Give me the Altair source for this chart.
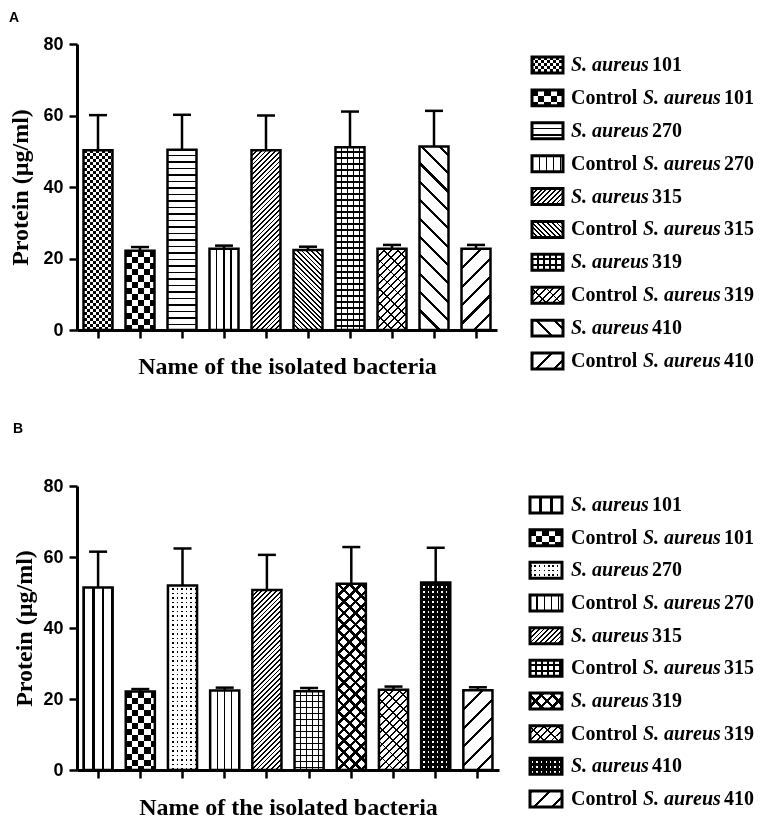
import math
import altair as alt
import pandas as pd

# ---------------- data ----------------
strains = ["101", "270", "315", "319", "410"]
cats = []
for s in strains:
    cats += [f"S. aureus {s}", f"Control S. aureus {s}"]
nums = [s for s in strains for _ in range(2)]
ctrl = [False, True] * 5

# Panel A (mean and SD, µg/ml)
mean_a = [50.3, 22.2, 50.4, 22.7, 50.3, 22.4, 51.1, 22.7, 51.3, 22.7]
err_a = [9.8, 1.0, 9.8, 0.9, 9.7, 0.9, 10.0, 1.1, 10.0, 1.1]
# Panel B
mean_b = [51.4, 22.1, 52.0, 22.4, 50.7, 22.2, 52.5, 22.6, 52.8, 22.5]
err_b = [10.1, 0.7, 10.4, 0.8, 9.9, 0.9, 10.3, 0.9, 9.8, 0.8]

pat_a = ["fine_checker", "checker", "hlines", "vlines", "diag_fine",
         "back_fine", "grid", "brick", "back_wide", "diag_wide"]
pat_b = ["vthick", "checker", "dots", "vlines", "diag_fine",
         "grid", "diamond", "brick", "dark_dash", "diag_wide"]

BLACK = "#000000"
WHITE = "#ffffff"
CLEAR = "rgba(0,0,0,0)"


# ---------------- hatch patterns via hard-stop gradients ----------------
def stops_for(L, period, thick, line, bg, phase=0.0):
    stops = []
    x = (phase % period) - period
    while x < L:
        for s, e, c in ((x, x + thick, line), (x + thick, x + period, bg)):
            s2 = max(0.0, s)
            e2 = min(L, e)
            if e2 > s2:
                stops.append({"offset": round(s2 / L, 5), "color": c})
                stops.append({"offset": round(e2 / L, 5), "color": c})
        x += period
    return stops


def lin(kind, w, h, period, thick, line=BLACK, bg=WHITE, phase=0.0):
    if kind == "v":
        L = w
        g = dict(x1=0, y1=0, x2=1, y2=0)
    elif kind == "h":
        L = h
        g = dict(x1=0, y1=0, x2=0, y2=1)
    else:
        k = (w + h) / (w * w + h * h)
        L = (w + h) / math.sqrt(2)
        if kind == "d":
            g = dict(x1=0, y1=0, x2=k * w, y2=k * h)
        else:
            g = dict(x1=0, y1=1, x2=k * w, y2=1 - k * h)
    out = {"gradient": "linear"}
    out.update({kk: round(v, 5) for kk, v in g.items()})
    out["stops"] = stops_for(L, period, thick, line, bg, phase)
    return out


def pattern(name, w, h):
    P = []
    if name in ("fine_checker", "checker"):
        s = 3.0 if name == "fine_checker" else 6.2
        P.append({"fill": lin("v", w, h, 2 * s, s, WHITE, BLACK)})
        P.append({"fill": lin("h", w, h, 2 * s, s, WHITE, BLACK), "blend": "difference"})
    elif name == "hlines":
        P.append({"fill": lin("h", w, h, 6.5, 1.5, phase=5.0)})
    elif name == "vlines":
        P.append({"fill": lin("v", w, h, 7.2, 1.3, phase=6.5)})
    elif name == "vthick":
        per = w / 3.0
        P.append({"fill": lin("v", w, h, per, 2.7, phase=per - 1.35)})
    elif name == "diag_fine":
        P.append({"fill": lin("d", w, h, 3.4, 1.3)})
    elif name == "back_fine":
        P.append({"fill": lin("b", w, h, 3.4, 1.3)})
    elif name == "grid":
        P.append({"fill": lin("v", w, h, 6.0, 1.2, phase=5.4)})
        P.append({"fill": lin("h", w, h, 6.0, 1.2, BLACK, CLEAR, phase=4.0)})
    elif name == "brick":
        P.append({"fill": lin("d", w, h, 5.0, 1.4)})
        P.append({"fill": lin("b", w, h, 10.0, 1.2, BLACK, CLEAR)})
    elif name == "back_wide":
        P.append({"fill": lin("b", w, h, 13.0, 2.2)})
    elif name == "diag_wide":
        P.append({"fill": lin("d", w, h, 13.0, 2.2)})
    elif name == "diamond":
        P.append({"fill": lin("d", w, h, 8.2, 2.5)})
        P.append({"fill": lin("b", w, h, 8.2, 2.5, BLACK, CLEAR)})
    elif name == "dots":
        P.append({"fill": lin("v", w, h, 4.5, 1.5)})
        P.append({"fill": lin("h", w, h, 4.5, 2.7, WHITE, CLEAR)})
    elif name == "dark_dash":
        P.append({"fill": BLACK})
        P.append({"fill": lin("v", w, h, 4.5, 1.4, WHITE, CLEAR, phase=2.0)})
        P.append({"fill": lin("h", w, h, 5.0, 3.0, BLACK, CLEAR)})
    return P


# ---------------- panels ----------------
def bar_panel(mean, err, pats, W, H, pi, y_tp, x_tp):
    df = pd.DataFrame({"cat": cats, "mean": mean, "err": err})
    bw = (W / 10.0) * (1 - pi)
    X = alt.X("cat:N", sort=cats,
              scale=alt.Scale(domain=cats, paddingInner=pi, paddingOuter=pi / 2),
              axis=alt.Axis(labels=False, ticks=True, tickSize=8, tickWidth=2.5,
                            tickColor="black", domainColor="black", domainWidth=3,
                            title="Name of the isolated bacteria",
                            titleFont="Liberation Serif", titleFontSize=24,
                            titleFontWeight="bold", titleColor="black",
                            titlePadding=x_tp))

    def mkY(field):
        return alt.Y(field, scale=alt.Scale(domain=[0, 80], nice=False),
                     axis=alt.Axis(values=[0, 20, 40, 60, 80], grid=False,
                                   tickSize=8, tickWidth=2.5, tickColor="black",
                                   domainColor="black", domainWidth=3,
                                   labelFont="Liberation Sans", labelFontSize=18,
                                   labelFontWeight="bold", labelColor="black",
                                   labelPadding=6,
                                   title="Protein (µg/ml)",
                                   titleFont="Liberation Serif", titleFontSize=24,
                                   titleFontWeight="bold", titleColor="black",
                                   titlePadding=y_tp))

    base = alt.Chart(df)
    layers = []
    for c, m, p in zip(cats, mean, pats):
        h = m * H / 80.0
        for spec in pattern(p, bw, h):
            kw = dict(fill=spec["fill"], strokeWidth=0, opacity=1)
            if "blend" in spec:
                kw["blend"] = spec["blend"]
            layers.append(base.transform_filter(alt.datum.cat == c)
                          .mark_bar(**kw).encode(x=X, y=mkY("mean:Q")))
    layers.append(base.mark_bar(fillOpacity=0, stroke="black", strokeWidth=2.5, opacity=1)
                  .encode(x=X, y=mkY("mean:Q")))
    eb = base.transform_calculate(upper="datum.mean + datum.err")
    layers.append(eb.mark_rule(color="black", strokeWidth=2.5, opacity=1)
                  .encode(x=X, y=mkY("mean:Q"), y2="upper:Q"))
    layers.append(eb.mark_tick(color="black", thickness=2.5, size=18, opacity=1)
                  .encode(x=X, y=mkY("upper:Q")))
    return alt.layer(*layers).properties(width=W, height=H)


def legend_panel(pats, H, pi, po, sw_w, sw_h=16, text_x=39):
    df = pd.DataFrame({"cat": cats, "ctrl": ctrl, "num": nums})
    Y = alt.Y("cat:N", sort=cats,
              scale=alt.Scale(domain=cats, paddingInner=pi, paddingOuter=po), axis=None)
    base = alt.Chart(df)
    layers = []
    for c, p in zip(cats, pats):
        for spec in pattern(p, sw_w, sw_h):
            kw = dict(fill=spec["fill"], strokeWidth=0, opacity=1)
            if "blend" in spec:
                kw["blend"] = spec["blend"]
            layers.append(base.transform_filter(alt.datum.cat == c).mark_rect(**kw)
                          .encode(y=Y, x=alt.value(0), x2=alt.value(sw_w)))
    layers.append(base.mark_rect(fillOpacity=0, stroke="black", strokeWidth=3, opacity=1)
                  .encode(y=Y, x=alt.value(0), x2=alt.value(sw_w)))
    cb = base.transform_filter("datum.ctrl")
    pb = base.transform_filter("!datum.ctrl")
    tk = dict(font="Liberation Serif", fontSize=20, fontWeight="bold",
              align="left", baseline="middle", color="black")
    layers.append(cb.mark_text(text="Control", **tk).encode(y=Y, x=alt.value(text_x)))
    layers.append(pb.mark_text(text="S. aureus", fontStyle="italic", **tk)
                  .encode(y=Y, x=alt.value(text_x)))
    layers.append(cb.mark_text(text="S. aureus", fontStyle="italic", **tk)
                  .encode(y=Y, x=alt.value(text_x + 72)))
    layers.append(pb.mark_text(**tk).encode(y=Y, x=alt.value(text_x + 81), text="num:N"))
    layers.append(cb.mark_text(**tk).encode(y=Y, x=alt.value(text_x + 153), text="num:N"))
    return alt.layer(*layers).properties(width=195, height=H)


barsA = bar_panel(mean_a, err_a, pat_a, W=420, H=286, pi=0.31, y_tp=10, x_tp=15)
legA = legend_panel(pat_a, H=338, pi=0.514, po=0.395, sw_w=31)
barsB = bar_panel(mean_b, err_b, pat_b, W=422, H=284, pi=0.31, y_tp=6, x_tp=16)
legB = legend_panel(pat_b, H=332, pi=0.511, po=0.337, sw_w=32, text_x=41)

rowA = alt.hconcat(barsA, legA, spacing=33).properties(
    title=alt.TitleParams("A", anchor="start", font="Liberation Sans", fontSize=14,
                          fontWeight="bold", color="black", offset=10))
rowB = alt.hconcat(barsB, legB, spacing=29).properties(
    title=alt.TitleParams("B", anchor="start", font="Liberation Sans", fontSize=14,
                          fontWeight="bold", color="black", offset=41))

chart = alt.vconcat(rowA, rowB, spacing=40).properties(
    padding={"left": 0, "top": 3, "right": 0, "bottom": 0}
).configure_view(strokeWidth=0)

chart.save("out.html", embed_options={"renderer": "svg", "actions": False})
